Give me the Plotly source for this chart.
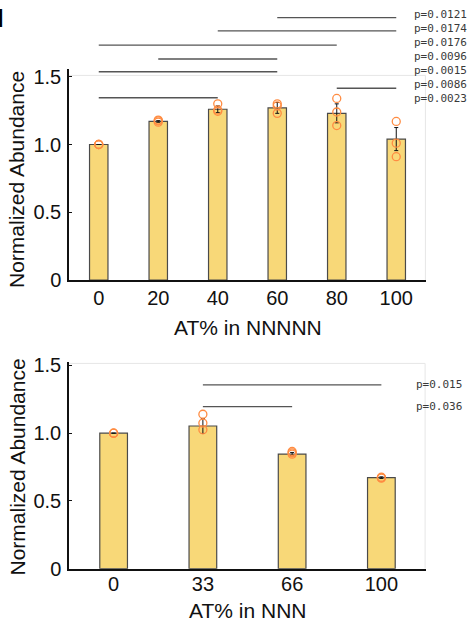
import plotly.graph_objects as go

# ---------------- data ----------------
top_categories = ["0", "20", "40", "60", "80", "100"]
top_means = [1.00, 1.17, 1.26, 1.27, 1.23, 1.04]
top_errors = [0.0, 0.006, 0.025, 0.04, 0.07, 0.085]
top_points = [
    [1.00, 1.00, 1.00],
    [1.18, 1.175, 1.165],
    [1.30, 1.255, 1.245],
    [1.30, 1.285, 1.23],
    [1.34, 1.24, 1.14],
    [1.17, 1.01, 0.91],
]
top_pairs = [("60", "100"), ("40", "100"), ("0", "80"), ("20", "60"),
             ("0", "60"), ("80", "100"), ("0", "40")]
top_pair_heights = [1.936, 1.838, 1.734, 1.631, 1.537, 1.415, 1.345]
top_pvalues = ["p=0.0121", "p=0.0174", "p=0.0176", "p=0.0096",
               "p=0.0015", "p=0.0086", "p=0.0023"]

bot_categories = ["0", "33", "66", "100"]
bot_means = [1.00, 1.053, 0.846, 0.672]
bot_errors = [0.0, 0.055, 0.012, 0.006]
bot_points = [
    [1.00, 1.00, 1.00],
    [1.14, 1.075, 1.025],
    [0.865, 0.855, 0.845],
    [0.675, 0.672, 0.668],
]
bot_pairs = [("33", "100"), ("33", "66")]
bot_pair_heights = [1.356, 1.196]
bot_pvalues = ["p=0.015", "p=0.036"]

y_tickvals = [0, 0.5, 1.0, 1.5]
y_ticktext = ["0", "0.5", "1.0", "1.5"]

# ---------------- style / layout constants ----------------
W, H = 472, 621
FONT = "Liberation Sans, Arial, sans-serif"
BAR_FILL = "#F8D878"
BAR_EDGE = "#4a4a4a"
DOT = "#FF8C42"
SIG = "#555555"
FRAME = "#e6e6e6"
# pixel rows of the stacked p-value labels (top panel)
TOP_PLABEL_ROWS = [15, 29, 43, 57, 71, 84.5, 98]


def px_x(p):
    return p / W


def px_y(p):
    return (H - p) / H


fig = go.Figure()


def add_panel(cats, means, errs, pts, xa, ya):
    fig.add_trace(go.Bar(
        x=cats, y=means, width=0.31,
        marker=dict(color=BAR_FILL, line=dict(color=BAR_EDGE, width=1.2)),
        error_y=dict(type="data", array=errs, visible=True,
                     color="#111111", thickness=1, width=2),
        xaxis=xa, yaxis=ya, showlegend=False, hoverinfo="skip"))
    xs, ys = [], []
    for c, vals in zip(cats, pts):
        for v in vals:
            xs.append(c)
            ys.append(v)
    fig.add_trace(go.Scatter(
        x=xs, y=ys, mode="markers", cliponaxis=False,
        marker=dict(symbol="circle-open", size=8, color=DOT,
                    line=dict(width=1.3, color=DOT)),
        xaxis=xa, yaxis=ya, showlegend=False, hoverinfo="skip"))


def add_sig(pairs, heights, xa, ya):
    xs, ys = [], []
    for (a, b), h in zip(pairs, heights):
        xs += [a, b, None]
        ys += [h, h, None]
    fig.add_trace(go.Scatter(
        x=xs, y=ys, mode="lines", line=dict(color=SIG, width=1.3),
        xaxis=xa, yaxis=ya, showlegend=False, hoverinfo="skip",
        connectgaps=False))


add_panel(top_categories, top_means, top_errors, top_points, "x", "y")
add_sig(top_pairs, top_pair_heights, "x3", "y3")
add_panel(bot_categories, bot_means, bot_errors, bot_points, "x2", "y2")
add_sig(bot_pairs, bot_pair_heights, "x2", "y2")

xdom = [px_x(69), px_x(426)]
top_base = 280
bot_base = 568.7
scale = 135.5  # px per unit

top_range = [0, 1.56]
sig_range = [0, 2.0]
bot_range = [0, 1.525]

ydom_top = [px_y(top_base), px_y(top_base - top_range[1] * scale)]
ydom_sig = [px_y(top_base), px_y(top_base - sig_range[1] * scale)]
ydom_bot = [px_y(bot_base), px_y(bot_base - bot_range[1] * scale)]

tickfont = dict(family=FONT, size=20, color="#111111")

xaxis_common = dict(type="category", showgrid=False, zeroline=False,
                    showline=True, linecolor="#111111", linewidth=2,
                    ticks="", tickfont=tickfont,
                    fixedrange=True, automargin=False)
yaxis_common = dict(showgrid=False, zeroline=False, showline=True,
                    linecolor="#111111", linewidth=1.5, ticks="inside",
                    ticklen=3, tickwidth=1, tickcolor="#111111",
                    tickvals=y_tickvals, ticktext=y_ticktext,
                    tickfont=tickfont, ticklabelstandoff=2, fixedrange=True,
                    automargin=False)

fig.update_layout(
    template="none",
    width=W, height=H, autosize=False,
    margin=dict(l=0, r=0, t=0, b=0, pad=0, autoexpand=False),
    paper_bgcolor="white", plot_bgcolor="rgba(0,0,0,0)",
    font=dict(family=FONT, color="#111111"),
    xaxis=dict(domain=xdom, anchor="y", range=[-0.5, 5.5],
               categoryarray=top_categories, categoryorder="array",
               ticklabelstandoff=-1, **xaxis_common),
    yaxis=dict(domain=ydom_top, anchor="x", range=top_range, **yaxis_common),
    xaxis3=dict(domain=xdom, anchor="y3", range=[-0.5, 5.5], type="category",
                categoryarray=top_categories, categoryorder="array",
                visible=False, fixedrange=True, automargin=False),
    yaxis3=dict(domain=ydom_sig, anchor="x3", range=sig_range,
                visible=False, fixedrange=True, automargin=False),
    xaxis2=dict(domain=xdom, anchor="y2", range=[-0.5, 3.5],
                categoryarray=bot_categories, categoryorder="array",
                ticklabelstandoff=-4, **xaxis_common),
    yaxis2=dict(domain=ydom_bot, anchor="x2", range=bot_range, **yaxis_common),
)

# light frame (top & right)
fig.add_shape(type="line", xref="x", yref="y", x0=-0.5, x1=5.49, y0=1.51, y1=1.51,
              line=dict(color=FRAME, width=1))
fig.add_shape(type="line", xref="x", yref="y", x0=5.49, x1=5.49, y0=0, y1=1.51,
              line=dict(color=FRAME, width=1))
fig.add_shape(type="line", xref="x2", yref="y2", x0=-0.5, x1=3.49, y0=1.515, y1=1.515,
              line=dict(color=FRAME, width=1))
fig.add_shape(type="line", xref="x2", yref="y2", x0=3.49, x1=3.49, y0=0, y1=1.515,
              line=dict(color=FRAME, width=1))

ann = []
pfont = dict(family="DejaVu Sans Mono, monospace", size=11, color="#3a3a3a")
for txt, row in zip(top_pvalues, TOP_PLABEL_ROWS):
    ann.append(dict(text=txt, xref="paper", yref="paper", x=px_x(412), y=px_y(row),
                    xanchor="left", yanchor="middle", showarrow=False,
                    font=pfont))
for txt, h in zip(bot_pvalues, bot_pair_heights):
    ann.append(dict(text=txt, xref="paper", yref="y2", x=px_x(414), y=h,
                    xanchor="left", yanchor="middle", showarrow=False,
                    font=pfont))

tfont = dict(family=FONT, size=21, color="#111111")
ann.append(dict(text="Normalized Abundance", textangle=-90, xref="paper", yref="paper",
                x=px_x(17), y=px_y(180), xanchor="center", yanchor="middle",
                showarrow=False, font=tfont))
ann.append(dict(text="Normalized Abundance", textangle=-90, xref="paper", yref="paper",
                x=px_x(17), y=px_y(467.5), xanchor="center", yanchor="middle",
                showarrow=False, font=tfont))
ann.append(dict(text="AT% in NNNNN", xref="paper", yref="paper",
                x=px_x(247.5), y=px_y(327), xanchor="center", yanchor="middle",
                showarrow=False, font=tfont))
ann.append(dict(text="AT% in NNN", xref="paper", yref="paper",
                x=px_x(247.5), y=px_y(610.7), xanchor="center", yanchor="middle",
                showarrow=False, font=tfont))
ann.append(dict(text="<b>H</b>", xref="paper", yref="paper",
                x=px_x(6), y=px_y(18), xanchor="right", yanchor="middle",
                showarrow=False, font=dict(family=FONT, size=26, color="#000000")))
fig.update_layout(annotations=ann)

fig.write_html(
    "out.html",
    config={"displayModeBar": False},
    post_script="document.body.style.margin='0';document.body.style.overflow='hidden';",
)
